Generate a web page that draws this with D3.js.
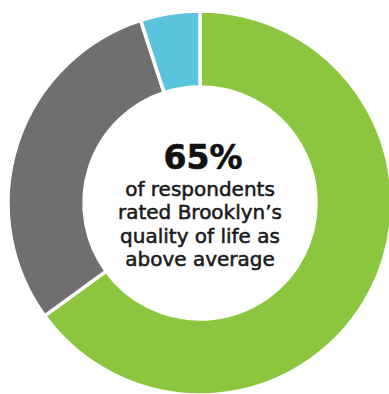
<!DOCTYPE html>
<html>
<head>
<meta charset="utf-8">
<script src="https://cdn.jsdelivr.net/npm/d3@7"></script>
<style>
  html, body { margin: 0; padding: 0; background: #ffffff; }
  svg { display: block; }
</style>
</head>
<body>
<script>
// Share of respondents by how they rated Brooklyn's quality of life
const categories = ["Above average", "Average or below", "No answer"];
const values = [65, 30, 5];
const colors = ["#8cc63f", "#6f6f71", "#5bc3db"];
const headline = "65%";
const captionLines = ["of respondents", "rated Brooklyn’s", "quality of life as", "above average"];

const width = 389, height = 394;
const cx = 200, cy = 203;
const outerR = 192, innerR = 116;

const svg = d3.select("body").append("svg")
  .attr("width", width)
  .attr("height", height);

const pie = d3.pie().sort(null).value(d => d.value);
const arc = d3.arc().innerRadius(innerR).outerRadius(outerR);

const data = categories.map((c, i) => ({ category: c, value: values[i], color: colors[i] }));

const g = svg.append("g").attr("transform", `translate(${cx},${cy})`);

g.selectAll("path")
  .data(pie(data))
  .join("path")
  .attr("d", arc)
  .attr("fill", d => d.data.color)
  .attr("stroke", "#ffffff")
  .attr("stroke-width", 3.5)
  .attr("stroke-linejoin", "miter");

// Center label
const font = "'DejaVu Sans', 'Noto Sans', sans-serif";

g.append("text")
  .attr("x", 3)
  .attr("y", -34)
  .attr("text-anchor", "middle")
  .attr("font-family", font)
  .attr("font-weight", 700)
  .attr("font-size", 33)
  .attr("fill", "#111111")
  .attr("stroke", "#111111")
  .attr("stroke-width", 0.6)
  .text(headline);

const lines = g.selectAll("text.caption")
  .data(captionLines)
  .join("text")
  .attr("class", "caption")
  .attr("x", 0)
  .attr("y", (d, i) => -7 + i * 23.4)
  .attr("text-anchor", "middle")
  .attr("font-family", font)
  .attr("font-size", 19)
  .attr("fill", "#1a1a1a")
  .attr("stroke", "#1a1a1a")
  .attr("stroke-width", 0.55)
  .text(d => d);

// Size the caption so its first line spans ~155px
const w0 = lines.node().getComputedTextLength();
if (w0 > 0) {
  lines.attr("font-size", Math.min(19 * 155 / w0, 20));
}
</script>
</body>
</html>
